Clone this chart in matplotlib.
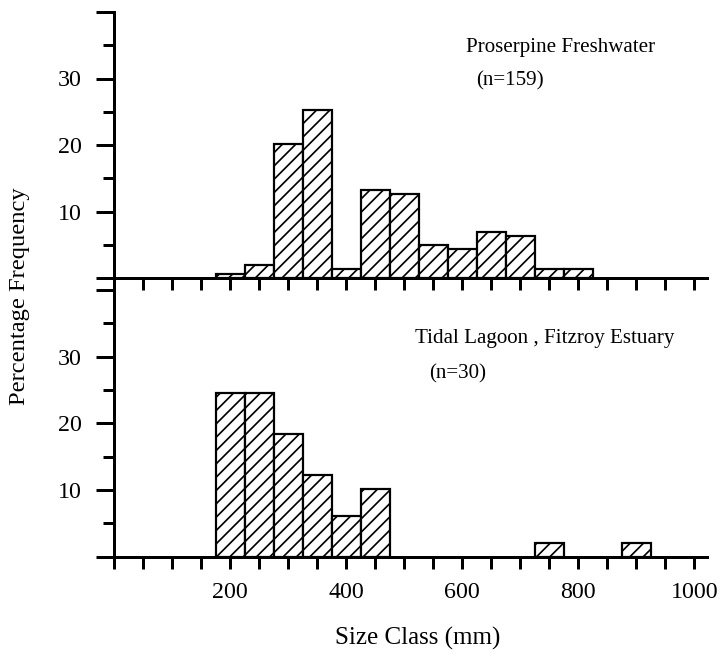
import matplotlib
matplotlib.use("Agg")
import matplotlib.pyplot as plt
from matplotlib.ticker import FixedLocator, FuncFormatter

# ---------------- data ----------------
top_classes = [200, 250, 300, 350, 400, 450, 500, 550, 600, 650, 700, 750, 800]
top_values = [0.6, 1.9, 20.1, 25.2, 1.3, 13.2, 12.6, 5.0, 4.4, 6.9, 6.3, 1.3, 1.3]
bottom_classes = [200, 250, 300, 350, 400, 450, 750, 900]
bottom_values = [24.5, 24.5, 18.4, 12.3, 6.1, 10.2, 2.0, 2.0]
class_width = 50
x_tick_labels = [200, 400, 600, 800, 1000]
y_tick_labels = [10, 20, 30]
top_title = "Proserpine Freshwater"
top_n = "(n=159)"
bottom_title = "Tidal Lagoon , Fitzroy Estuary"
bottom_n = "(n=30)"
xlabel = "Size Class (mm)"
ylabel = "Percentage Frequency"

# ---------------- style ----------------
DPI = 160
W, H = 725, 654


def pt(px):
    return px * 72.0 / DPI


plt.rcParams["font.family"] = ["Liberation Serif", "DejaVu Serif"]
plt.rcParams["hatch.linewidth"] = pt(1.7)
plt.rcParams["hatch.color"] = "black"

fig = plt.figure(figsize=(W / DPI, H / DPI), dpi=DPI)
fig.patch.set_facecolor("white")

left = 114 / W
width = 593 / W
ax1 = fig.add_axes([left, (H - 278) / H, width, 266 / H])
ax2 = fig.add_axes([left, (H - 556.7) / H, width, 266.7 / H])


def xfmt(v, pos):
    iv = int(round(v))
    return str(iv) if iv in x_tick_labels else ""


def yfmt(v, pos):
    iv = int(round(v))
    return str(iv) if iv in y_tick_labels else ""


for ax, classes, vals in [(ax1, top_classes, top_values), (ax2, bottom_classes, bottom_values)]:
    ax.bar(classes, vals, width=class_width, facecolor="white", edgecolor="black",
           hatch="////", linewidth=pt(2.2), zorder=2)
    ax.set_xlim(0, 1022)
    ax.set_ylim(0, 40)
    for s in ["top", "right"]:
        ax.spines[s].set_visible(False)
    for s in ["left", "bottom"]:
        ax.spines[s].set_linewidth(pt(3))
        ax.spines[s].set_zorder(3)
    ax.xaxis.set_major_locator(FixedLocator(list(range(0, 1001, 50))))
    ax.xaxis.set_major_formatter(FuncFormatter(xfmt))
    ax.yaxis.set_major_locator(FixedLocator([0, 10, 20, 30, 40]))
    ax.yaxis.set_minor_locator(FixedLocator([5, 15, 25, 35]))
    ax.yaxis.set_major_formatter(FuncFormatter(yfmt))
    ax.tick_params(axis="x", direction="out", length=pt(12), width=pt(3),
                   pad=pt(13), labelsize=pt(24))
    ax.tick_params(axis="y", which="major", direction="out", length=pt(18), width=pt(3),
                   pad=pt(14), labelsize=pt(24))
    ax.tick_params(axis="y", which="minor", direction="out", length=pt(11), width=pt(3))
    ax.set_facecolor("none")

ax1.tick_params(axis="x", labelbottom=False)


def ftext(x, y, s, size, **kw):
    fig.text(x / W, 1 - y / H, s, fontsize=pt(size), **kw)


ftext(561, 52, top_title, 21, ha="center", va="baseline")
ftext(510, 85, top_n, 21, ha="center", va="baseline")
ftext(545, 343, bottom_title, 21, ha="center", va="baseline")
ftext(458, 378, bottom_n, 21, ha="center", va="baseline")
ftext(418, 645, xlabel, 25, ha="center", va="baseline")
ftext(20, 296, ylabel, 24.5, ha="center", va="center", rotation=90)

fig.savefig("out.png", dpi=DPI, facecolor="white")
